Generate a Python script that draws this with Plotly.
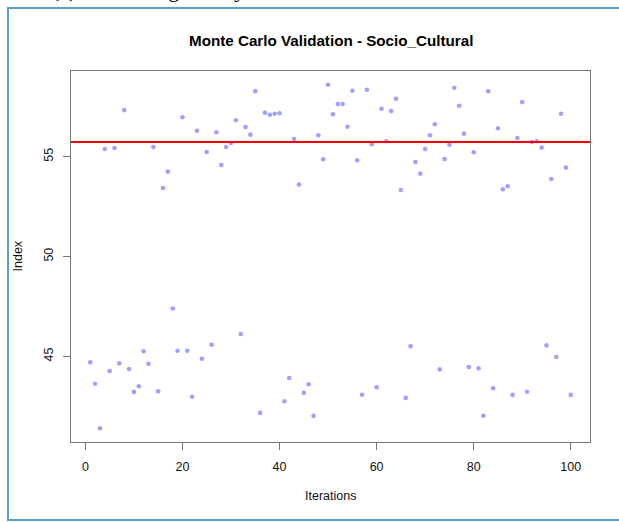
import plotly.graph_objects as go

iterations = list(range(1, 101))
index_values = [
    44.70, 43.63, 41.40, 55.38, 44.27, 55.43, 44.65, 57.33, 44.37, 43.22,
    43.50, 45.25, 44.63, 55.48, 43.25, 53.43, 54.25, 47.40, 45.28, 56.97,
    45.28, 42.98, 56.30, 44.88, 55.23, 45.58, 56.22, 54.58, 55.48, 55.68,
    56.82, 46.12, 56.48, 56.10, 58.28, 42.17, 57.20, 57.10, 57.15, 57.17,
    42.75, 43.92, 55.88, 53.60, 43.17, 43.60, 42.02, 56.07, 54.87, 58.60,
    57.12, 57.63, 57.63, 56.50, 58.30, 54.82, 43.08, 58.35, 55.62, 43.45,
    57.40, 55.77, 57.28, 57.90, 53.33, 42.92, 45.50, 54.73, 54.15, 55.38,
    56.07, 56.62, 44.35, 54.88, 55.60, 58.45, 57.55, 56.15, 44.47, 55.22,
    44.40, 42.03, 58.27, 43.40, 56.42, 53.37, 53.52, 43.07, 55.93, 57.73,
    43.23, 55.73, 55.77, 55.45, 45.55, 53.88, 44.97, 57.15, 54.45, 43.07,
]
reference_line = 55.73
x_ticks = [0, 20, 40, 60, 80, 100]
y_ticks = [45, 50, 55]
title_text = "Monte Carlo Validation - Socio_Cultural"
x_label = "Iterations"
y_label = "Index"

W, H = 619, 522
ML, MR, MT, MB = 71, 29, 71, 80
PW, PH = W - ML - MR, H - MT - MB


def px_x(px):
    return (px - ML) / PW


def px_y(py):
    return (H - MB - py) / PH


# R-style 4% axis extension
xmin, xmax = min(iterations), max(iterations)
ymin, ymax = min(index_values), max(index_values)
xr = [xmin - 0.04 * (xmax - xmin), xmax + 0.04 * (xmax - xmin)]
yr = [ymin - 0.04 * (ymax - ymin), ymax + 0.04 * (ymax - ymin)]

fig = go.Figure()
fig.add_trace(go.Scatter(
    x=iterations, y=index_values, mode="markers",
    marker=dict(size=4.6, color="#a0a0ff", line=dict(width=0)),
    showlegend=False, hoverinfo="x+y",
))

axis_common = dict(
    showgrid=False, zeroline=False, showline=True, mirror=True,
    linecolor="#777777", linewidth=1, ticks="outside", ticklen=7,
    tickcolor="#777777", tickwidth=1,
    tickfont=dict(family="Liberation Sans, Arial, sans-serif", size=12.5, color="#111111"),
)
fig.update_xaxes(range=xr, tickvals=x_ticks, ticklabelstandoff=6, **axis_common)
fig.update_yaxes(range=yr, tickvals=y_ticks, tickangle=-90, ticklabelstandoff=5, **axis_common)

font_fam = "Liberation Sans, Arial, sans-serif"
annotations = [
    dict(text="<b>" + title_text + "</b>", x=0.5, y=px_y(41), xref="paper", yref="paper",
         showarrow=False, xanchor="center", yanchor="middle",
         font=dict(family=font_fam, size=15.2, color="#000000")),
    dict(text=x_label, x=0.5, y=px_y(496), xref="paper", yref="paper",
         showarrow=False, xanchor="center", yanchor="middle",
         font=dict(family=font_fam, size=12.5, color="#111111")),
    dict(text=y_label, x=px_x(17), y=px_y(256.5), xref="paper", yref="paper",
         showarrow=False, xanchor="center", yanchor="middle", textangle=-90,
         font=dict(family=font_fam, size=12.5, color="#111111")),
    dict(text="(c)", x=px_x(50), y=px_y(4), xref="paper", yref="paper",
         showarrow=False, xanchor="left", yanchor="bottom",
         font=dict(family="Liberation Serif, serif", size=22, color="#000000")),
    dict(text="Legitimacy", x=px_x(143), y=px_y(4), xref="paper", yref="paper",
         showarrow=False, xanchor="left", yanchor="bottom",
         font=dict(family="Liberation Serif, serif", size=22, color="#000000")),
]

fig.update_layout(
    width=W, height=H,
    margin=dict(l=ML, r=MR, t=MT, b=MB, pad=0),
    paper_bgcolor="#ffffff", plot_bgcolor="#ffffff",
    annotations=annotations,
    showlegend=False,
)

# document frame
fig.add_shape(type="rect", xref="paper", yref="paper",
              x0=px_x(8), x1=px_x(660), y0=px_y(520), y1=px_y(8),
              line=dict(color="#5b9bd5", width=2), fillcolor="rgba(0,0,0,0)", layer="below")
# reference (mean) line
fig.add_hline(y=reference_line, line=dict(color="#ff0000", width=2))

fig.write_html("out.html", config={"displayModeBar": False},
               post_script="document.body.style.margin='0';")
